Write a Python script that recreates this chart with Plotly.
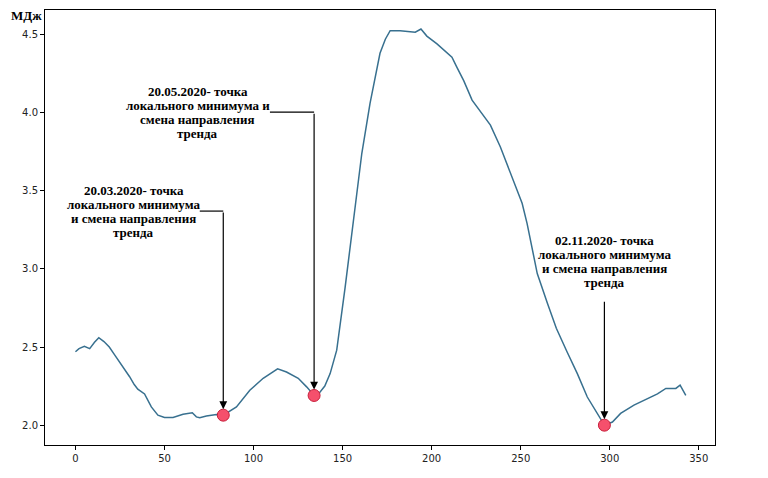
import plotly.graph_objects as go

# день от начала ряда и значение, МДж
days = [0, 2, 5, 8, 10.7, 13.1, 16, 19, 22, 24.8, 28, 30.4, 33, 35, 38.8, 42.6, 46.3, 50,
        54.8, 60.4, 65.6, 67.9, 69.8, 73.5, 79.2, 83, 90.4, 97.9, 105.4, 113.5, 118.5,
        125.1, 129.8, 134, 136.5, 140, 143, 146.7, 151.4, 156, 160.8, 165.4, 168, 171,
        174, 176.7, 182.3, 188, 190.8, 194, 197.3, 203, 206.7, 211.4, 214.2, 218, 222.7,
        227.3, 233, 238.6, 242.4, 250.8, 253.6, 259.3, 265, 270, 276, 281.8, 287.4, 293,
        297, 301.5, 306.1, 313.6, 321.1, 326.8, 331.5, 337.1, 339.5, 341, 342.7]
energy = [2.47, 2.49, 2.505, 2.49, 2.53, 2.56, 2.535, 2.50, 2.45, 2.405, 2.35, 2.31, 2.26,
          2.23, 2.20, 2.117, 2.064, 2.049, 2.049, 2.07, 2.079, 2.053, 2.047, 2.058, 2.068,
          2.064, 2.117, 2.224, 2.30, 2.36, 2.34, 2.30, 2.245, 2.19, 2.20, 2.25, 2.33, 2.48,
          2.88, 3.31, 3.74, 4.06, 4.20, 4.38, 4.47, 4.525, 4.525, 4.52, 4.515, 4.535, 4.49,
          4.44, 4.40, 4.355, 4.29, 4.205, 4.08, 4.01, 3.92, 3.78, 3.67, 3.42, 3.29, 2.97,
          2.78, 2.62, 2.47, 2.33, 2.18, 2.075, 2.00, 2.02, 2.075, 2.128, 2.17, 2.20, 2.235,
          2.235, 2.256, 2.22, 2.19]

min_days = [83, 134, 297]
min_energy = [2.064, 2.19, 2.00]
labels = [
    ["20.03.2020- точка", "локального минимума", "и смена направления", "тренда"],
    ["20.05.2020- точка", "локального минимума и", "смена направления", "тренда"],
    ["02.11.2020- точка", "локального минимума", "и смена направления", "тренда"],
]
# положение подписей (центр текста) и начало стрелки
text_pos = [(32.7, 3.37), (68.7, 4.003), (297, 3.05)]
elbow_y = [3.37, 4.003, 2.80]
line_start_x = [69.8, 109.2, None]

fig = go.Figure()
fig.add_trace(go.Scatter(x=days, y=energy, mode="lines",
                         line=dict(color="#38708f", width=1.5), hoverinfo="skip"))
fig.add_trace(go.Scatter(x=min_days, y=min_energy, mode="markers",
                         marker=dict(size=12, color="#f5506c",
                                     line=dict(color="#c8203c", width=1))))

font_txt = dict(family="Liberation Serif", size=13, color="black")
for i in range(3):
    n = len(labels[i])
    for k, line in enumerate(labels[i]):
        fig.add_annotation(x=text_pos[i][0], y=text_pos[i][1], text="<b>" + line + "</b>",
                           showarrow=False, font=font_txt, xanchor="center",
                           yanchor="middle", yshift=((n - 1) / 2 - k) * 14)
    fig.add_annotation(x=min_days[i], y=min_energy[i], ax=min_days[i], ay=elbow_y[i],
                       axref="x", ayref="y", text="", showarrow=True, arrowhead=2,
                       arrowsize=1.3, arrowwidth=1.2, arrowcolor="black", standoff=6)
    if line_start_x[i] is not None:
        fig.add_shape(type="line", x0=line_start_x[i], y0=elbow_y[i], x1=min_days[i],
                      y1=elbow_y[i], line=dict(color="black", width=1.2))

fig.add_annotation(x=0, y=0.988, xref="paper", yref="paper", text="<b>МДж</b>",
                   showarrow=False, xanchor="right", yanchor="middle", xshift=-1,
                   font=font_txt)

axis_style = dict(showline=True, linecolor="black", linewidth=1, mirror=True,
                  showgrid=False, zeroline=False, ticks="outside", ticklen=4,
                  tickcolor="black", tickfont=dict(family="DejaVu Sans", size=10, color="#222"))
fig.update_xaxes(range=[-17.1, 359.1], tickvals=[0, 50, 100, 150, 200, 250, 300, 350],
                 **axis_style)
fig.update_yaxes(range=[1.873, 4.657], tickvals=[2.0, 2.5, 3.0, 3.5, 4.0, 4.5],
                 tickformat=".1f", **axis_style)
# страница сдвигает график на 8 px, поэтому поля смещены
fig.update_layout(width=768, height=478, margin=dict(l=37, r=61, t=2, b=41),
                  plot_bgcolor="white", paper_bgcolor="white", showlegend=False)
fig.write_html("out.html")
